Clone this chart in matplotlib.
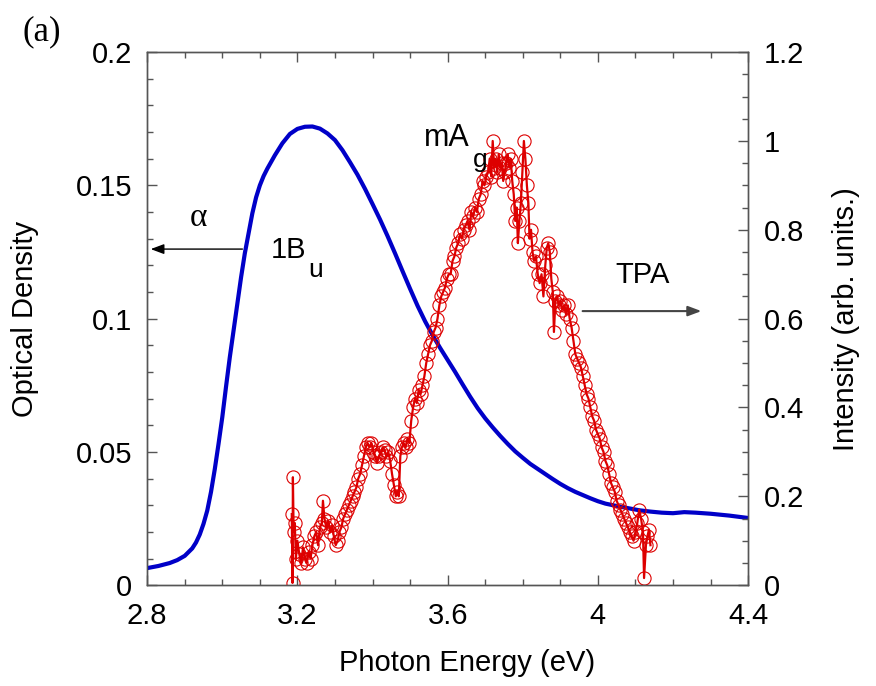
import matplotlib
matplotlib.use("Agg")
import matplotlib.pyplot as plt
from matplotlib.ticker import MultipleLocator, FuncFormatter

plt.rcParams["font.family"] = ["Liberation Sans", "DejaVu Sans"]

# absorption (optical density, left axis)
od_energy = [2.80, 2.83, 2.86, 2.88, 2.90, 2.92, 2.93, 2.94, 2.95, 2.96,
             2.97, 2.98, 2.99, 3.00, 3.01, 3.02, 3.03, 3.04, 3.05, 3.06,
             3.07, 3.08, 3.09, 3.10, 3.11, 3.12, 3.14, 3.16, 3.18, 3.20,
             3.22, 3.24, 3.26, 3.28, 3.30, 3.32, 3.34, 3.36, 3.38, 3.40,
             3.42, 3.44, 3.46, 3.48, 3.50, 3.52, 3.54, 3.56, 3.58, 3.60,
             3.62, 3.64, 3.66, 3.68, 3.70, 3.72, 3.74, 3.76, 3.78, 3.80,
             3.82, 3.84, 3.86, 3.88, 3.90, 3.92, 3.94, 3.96, 3.98, 4.00,
             4.02, 4.05, 4.08, 4.11, 4.14, 4.17, 4.20, 4.23, 4.26, 4.30,
             4.35, 4.40]
od_value = [0.0064, 0.0072, 0.0083, 0.0094, 0.0110, 0.0138, 0.0160, 0.0190, 0.0230, 0.0280,
            0.0350, 0.0435, 0.0530, 0.0630, 0.0745, 0.0855, 0.0955, 0.1055, 0.1155, 0.1245,
            0.1320, 0.1395, 0.1455, 0.1500, 0.1535, 0.1563, 0.1613, 0.1658, 0.1693, 0.1712,
            0.1720, 0.1721, 0.1713, 0.1695, 0.1670, 0.1632, 0.1587, 0.1540, 0.1487, 0.1430,
            0.1372, 0.1310, 0.1245, 0.1178, 0.1112, 0.1048, 0.0990, 0.0938, 0.0890, 0.0845,
            0.0800, 0.0753, 0.0707, 0.0664, 0.0626, 0.0592, 0.0560, 0.0530, 0.0502, 0.0478,
            0.0455, 0.0436, 0.0417, 0.0398, 0.0380, 0.0364, 0.0350, 0.0338, 0.0326, 0.0315,
            0.0306, 0.0297, 0.0289, 0.0281, 0.0276, 0.0272, 0.0270, 0.0274, 0.0272, 0.0268,
            0.0261, 0.0252]

# two-photon absorption (right axis)
tpa_energy = [3.185, 3.187, 3.188, 3.190, 3.193, 3.196, 3.200, 3.205, 3.210, 3.215,
              3.220, 3.225, 3.230, 3.235, 3.240, 3.245, 3.250, 3.255, 3.260, 3.265,
              3.268, 3.272, 3.277, 3.282, 3.287, 3.292, 3.297, 3.302, 3.307, 3.312,
              3.317, 3.322, 3.327, 3.332, 3.337, 3.342, 3.347, 3.352, 3.357, 3.362,
              3.367, 3.372, 3.377, 3.382, 3.387, 3.392, 3.397, 3.402, 3.407, 3.412,
              3.417, 3.422, 3.427, 3.432, 3.437, 3.442, 3.447, 3.452, 3.457, 3.462,
              3.466, 3.470, 3.474, 3.478, 3.483, 3.488, 3.493, 3.498, 3.503, 3.508,
              3.513, 3.518, 3.523, 3.528, 3.533, 3.538, 3.543, 3.548, 3.553, 3.558,
              3.563, 3.568, 3.573, 3.578, 3.583, 3.588, 3.593, 3.598, 3.603, 3.608,
              3.613, 3.618, 3.623, 3.628, 3.633, 3.638, 3.643, 3.648, 3.653, 3.658,
              3.663, 3.668, 3.673, 3.678, 3.683, 3.688, 3.693, 3.698, 3.703, 3.708,
              3.712, 3.716, 3.720, 3.724, 3.728, 3.732, 3.736, 3.740, 3.744, 3.748,
              3.752, 3.756, 3.760, 3.764, 3.768, 3.772, 3.776, 3.780, 3.784, 3.787,
              3.791, 3.795, 3.799, 3.803, 3.807, 3.811, 3.815, 3.818, 3.822, 3.826,
              3.830, 3.835, 3.840, 3.845, 3.850, 3.855, 3.860, 3.864, 3.868, 3.872,
              3.876, 3.880, 3.883, 3.887, 3.891, 3.896, 3.900, 3.905, 3.910, 3.915,
              3.920, 3.925, 3.930, 3.935, 3.940, 3.945, 3.950, 3.955, 3.960, 3.965,
              3.970, 3.975, 3.980, 3.985, 3.990, 3.995, 4.000, 4.005, 4.010, 4.015,
              4.020, 4.025, 4.030, 4.035, 4.040, 4.045, 4.050, 4.055, 4.060, 4.065,
              4.070, 4.075, 4.080, 4.085, 4.090, 4.095, 4.100, 4.105, 4.110, 4.115,
              4.120, 4.123, 4.128, 4.132, 4.136, 4.140]
tpa_value = [0.160, 0.005, 0.243, 0.120, 0.140, 0.060, 0.100, 0.070, 0.050, 0.085,
             0.060, 0.050, 0.075, 0.060, 0.090, 0.110, 0.120, 0.090, 0.130, 0.140,
             0.190, 0.150, 0.130, 0.145, 0.120, 0.135, 0.110, 0.090, 0.100, 0.120,
             0.130, 0.150, 0.160, 0.170, 0.180, 0.190, 0.200, 0.210, 0.220, 0.240,
             0.250, 0.270, 0.290, 0.310, 0.320, 0.310, 0.320, 0.300, 0.290, 0.275,
             0.290, 0.300, 0.310, 0.305, 0.290, 0.300, 0.280, 0.250, 0.225, 0.200,
             0.210, 0.200, 0.290, 0.310, 0.320, 0.310, 0.330, 0.320, 0.370, 0.400,
             0.420, 0.410, 0.440, 0.430, 0.450, 0.470, 0.500, 0.520, 0.540, 0.550,
             0.570, 0.580, 0.600, 0.630, 0.650, 0.660, 0.670, 0.690, 0.700, 0.700,
             0.730, 0.740, 0.760, 0.770, 0.790, 0.780, 0.800, 0.810, 0.820, 0.800,
             0.840, 0.830, 0.850, 0.840, 0.870, 0.880, 0.910, 0.900, 0.920, 0.930,
             0.960, 0.920, 1.000, 0.940, 0.960, 0.930, 0.970, 0.940, 0.950, 0.910,
             0.930, 0.950, 0.970, 0.940, 0.960, 0.910, 0.880, 0.820, 0.850, 0.770,
             0.820, 0.860, 0.930, 1.000, 0.960, 0.900, 0.860, 0.780, 0.800, 0.750,
             0.730, 0.740, 0.700, 0.680, 0.700, 0.650, 0.720, 0.760, 0.770, 0.750,
             0.690, 0.660, 0.570, 0.640, 0.650, 0.630, 0.640, 0.620, 0.630, 0.610,
             0.630, 0.600, 0.580, 0.550, 0.520, 0.510, 0.500, 0.490, 0.470, 0.450,
             0.430, 0.420, 0.400, 0.380, 0.370, 0.350, 0.340, 0.330, 0.310, 0.300,
             0.280, 0.270, 0.250, 0.230, 0.220, 0.210, 0.190, 0.180, 0.170, 0.160,
             0.150, 0.140, 0.130, 0.120, 0.110, 0.100, 0.120, 0.140, 0.170, 0.150,
             0.120, 0.016, 0.090, 0.110, 0.125, 0.090]

x_ticks = [2.8, 3.2, 3.6, 4.0, 4.4]
od_ticks = [0, 0.05, 0.1, 0.15, 0.2]
int_ticks = [0, 0.2, 0.4, 0.6, 0.8, 1.0, 1.2]

spine_col = "#555555"
fmt = FuncFormatter(lambda v, p: "%g" % round(v, 3))

fig, ax = plt.subplots(figsize=(8.76, 6.86), dpi=100)
fig.subplots_adjust(left=0.168, right=0.854, bottom=0.147, top=0.924)
ax2 = ax.twinx()

ax.plot(od_energy, od_value, color="#0000c8", lw=3.0, zorder=3)
ax2.plot(tpa_energy, tpa_value, color="#dd0000", lw=1.6, marker="o", ms=9.5,
         mfc="none", mec="#dd0000", mew=0.8)

ax.set_xlim(2.8, 4.4)
ax.set_ylim(0, 0.2)
ax2.set_ylim(0, 1.2)
ax.set_xticks(x_ticks)
ax.set_yticks(od_ticks)
ax2.set_yticks(int_ticks)
ax.xaxis.set_minor_locator(MultipleLocator(0.1))
ax.yaxis.set_minor_locator(MultipleLocator(0.01))
ax2.yaxis.set_minor_locator(MultipleLocator(0.05))
ax.xaxis.set_major_formatter(fmt)
ax.yaxis.set_major_formatter(fmt)
ax2.yaxis.set_major_formatter(fmt)

ax.tick_params(axis="x", which="both", direction="in", top=True, labelsize=21,
               pad=12, color=spine_col)
ax.tick_params(axis="y", which="both", direction="in", labelsize=21, pad=11,
               color=spine_col)
ax2.tick_params(axis="y", which="both", direction="in", labelsize=21, pad=11,
                color=spine_col)
for a in (ax, ax2):
    a.tick_params(which="major", length=7, width=1)
    a.tick_params(which="minor", length=4.5, width=1)
    for s in a.spines.values():
        s.set_color(spine_col)
        s.set_linewidth(1.0)

ax.set_xlabel("Photon Energy (eV)", fontsize=21, labelpad=10)
ax.xaxis.set_label_coords(0.533, -0.12)
ax.set_ylabel("Optical Density", fontsize=21, labelpad=26)
ax2.set_ylabel("Intensity (arb. units.)", fontsize=21, labelpad=20)

# annotations
ax.annotate("", xy=(2.802, 0.1261), xytext=(3.061, 0.1261),
            arrowprops=dict(arrowstyle="-|>,head_length=0.8,head_width=0.3",
                            color="black", lw=1.0))
ax.text(2.936, 0.1377, "α", fontsize=24, family="Liberation Serif",
        ha="center", va="center")
ax.text(3.128, 0.1257, "1B", fontsize=21, ha="left", va="center")
ax.text(3.228, 0.1182, "u", fontsize=19, ha="left", va="center")

ax2.annotate("", xy=(4.283, 0.617), xytext=(3.952, 0.617),
             arrowprops=dict(arrowstyle="-|>,head_length=0.8,head_width=0.3",
                             color="#444444", lw=1.5))
ax2.text(4.12, 0.698, "TPA", fontsize=21, ha="center", va="center")
ax2.text(3.538, 1.006, "mA", fontsize=22, ha="left", va="center")
ax2.text(3.667, 0.957, "g", fontsize=19, ha="left", va="center")

fig.text(0.048, 0.953, "(a)", fontsize=25, family="Liberation Serif",
         ha="center", va="center")

fig.savefig("out.png", dpi=100)
